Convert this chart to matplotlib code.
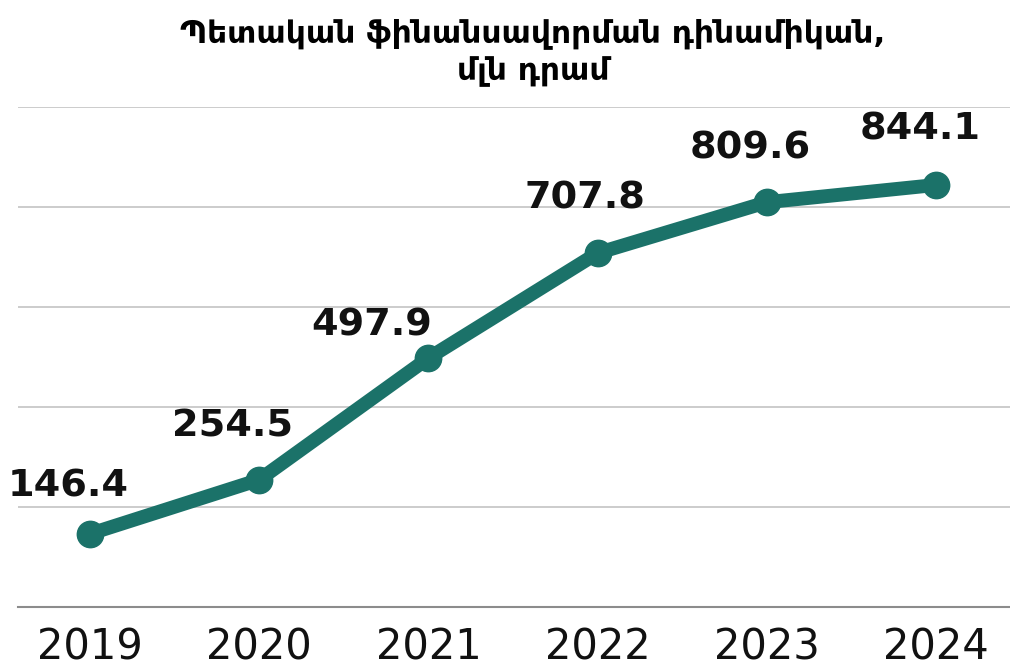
import numpy as np
import matplotlib
matplotlib.use('Agg')
import matplotlib.pyplot as plt
from matplotlib import font_manager

#--data
years  = ['2019','2020','2021','2022','2023','2024']
values = [146.4, 254.5, 497.9, 707.8, 809.6, 844.1]
labels = ['146.4','254.5','497.9','707.8','809.6','844.1']
#--label offsets in pixels (dx, dy)
lab_dx = [-22, -27, -57, -13, -17, -16]
lab_dy = [ 47,  53,  33,  55,  54,  55]

title = 'Պետական ֆինանսավորման դինամիկան,\nմլն դրամ'
color = '#1b7269'

names = set(f.name for f in font_manager.fontManager.ttflist)
tfam = 'DejaVu Sans Condensed' if 'DejaVu Sans Condensed' in names else 'DejaVu Sans'

W, H = 1010, 669
fig = plt.figure(figsize=(W/100, H/100), dpi=100)
ax = fig.add_axes([18/W, (H-607)/H, (W-18)/W, 500/H])

X = np.arange(len(years))
ax.set_xlim(-72/169.2, 5 + 74/169.2)
ax.set_ylim(0, 1000)

for g in [200, 400, 600, 800, 1000]:
    ax.axhline(g, color='#c8c8c8', lw=1.3, zorder=0)

ax.plot(X, values, color=color, lw=10, marker='o', ms=19, solid_capstyle='round', zorder=3)

for i in range(len(X)):
    ax.annotate(labels[i], (X[i], values[i]), xytext=(lab_dx[i]*0.72, lab_dy[i]*0.72),
                textcoords='offset points', ha='center', va='center',
                fontsize=27.5, fontweight='bold', color='#111111')

for s in ['top', 'right', 'left']:
    ax.spines[s].set_visible(False)
ax.spines['bottom'].set_color('#8c8c8c')
ax.spines['bottom'].set_linewidth(1.5)
ax.set_yticks([])
ax.set_xticks(X)
ax.set_xticklabels(years, fontsize=30, color='#111111')
ax.tick_params(axis='x', length=0, pad=14)

fig.text(533/W, 1 - 53/H, title, ha='center', va='center', fontsize=22.5,
         fontweight='bold', family=tfam, linespacing=1.3)

fig.savefig('out.png', dpi=100)
